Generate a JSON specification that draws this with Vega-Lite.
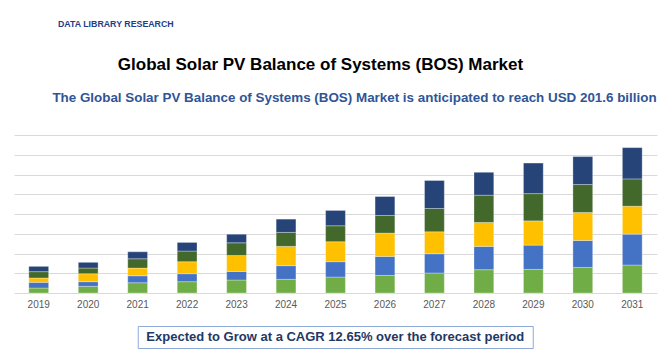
{
  "$schema": "https://vega.github.io/schema/vega-lite/v6.json",
  "background": "white",
  "padding": {"left": 14, "right": 13, "top": 20, "bottom": 2},
  "title": {"text": "DATA LIBRARY RESEARCH", "anchor": "start", "dx": 44, "fontSize": 8.8, "font": "Liberation Sans", "fontWeight": "bold", "color": "#1f3c88", "offset": 26},
  "config": {"view": {"stroke": null}},
  "center": true,
  "spacing": 16,
  "vconcat": [
    {
      "width": 643,
      "height": 20,
      "data": {"values": [{"heading": "Global Solar PV Balance of Systems (BOS) Market"}]},
      "mark": {"type": "text", "font": "Liberation Sans", "fontWeight": "bold", "fontSize": 17, "color": "#000000", "dx": -15},
      "encoding": {"text": {"field": "heading"}}
    },
    {
      "width": 643,
      "height": 158,
      "title": {"text": "The Global Solar PV Balance of Systems (BOS) Market is anticipated to reach USD 201.6 billion", "anchor": "middle", "dx": 19, "dy": 1, "font": "Liberation Sans", "fontSize": 13.4, "fontWeight": "bold", "color": "#2f5597", "offset": 31.5},
      "data": {"values": [
        {"year": "2019", "series": "Segment 1", "value": 6.3}, {"year": "2019", "series": "Segment 2", "value": 7.2}, {"year": "2019", "series": "Segment 3", "value": 5.5}, {"year": "2019", "series": "Segment 4", "value": 8.0}, {"year": "2019", "series": "Segment 5", "value": 6.7},
        {"year": "2020", "series": "Segment 1", "value": 8.4}, {"year": "2020", "series": "Segment 2", "value": 5.9}, {"year": "2020", "series": "Segment 3", "value": 10.1}, {"year": "2020", "series": "Segment 4", "value": 7.2}, {"year": "2020", "series": "Segment 5", "value": 7.2},
        {"year": "2021", "series": "Segment 1", "value": 13.0}, {"year": "2021", "series": "Segment 2", "value": 8.8}, {"year": "2021", "series": "Segment 3", "value": 9.7}, {"year": "2021", "series": "Segment 4", "value": 11.8}, {"year": "2021", "series": "Segment 5", "value": 8.8},
        {"year": "2022", "series": "Segment 1", "value": 14.3}, {"year": "2022", "series": "Segment 2", "value": 10.1}, {"year": "2022", "series": "Segment 3", "value": 15.2}, {"year": "2022", "series": "Segment 4", "value": 13.5}, {"year": "2022", "series": "Segment 5", "value": 10.9},
        {"year": "2023", "series": "Segment 1", "value": 16.4}, {"year": "2023", "series": "Segment 2", "value": 10.9}, {"year": "2023", "series": "Segment 3", "value": 20.2}, {"year": "2023", "series": "Segment 4", "value": 16.0}, {"year": "2023", "series": "Segment 5", "value": 10.9},
        {"year": "2024", "series": "Segment 1", "value": 17.3}, {"year": "2024", "series": "Segment 2", "value": 17.3}, {"year": "2024", "series": "Segment 3", "value": 24.4}, {"year": "2024", "series": "Segment 4", "value": 17.7}, {"year": "2024", "series": "Segment 5", "value": 16.8},
        {"year": "2025", "series": "Segment 1", "value": 20.2}, {"year": "2025", "series": "Segment 2", "value": 19.4}, {"year": "2025", "series": "Segment 3", "value": 25.3}, {"year": "2025", "series": "Segment 4", "value": 20.2}, {"year": "2025", "series": "Segment 5", "value": 19.4},
        {"year": "2026", "series": "Segment 1", "value": 22.3}, {"year": "2026", "series": "Segment 2", "value": 24.0}, {"year": "2026", "series": "Segment 3", "value": 29.5}, {"year": "2026", "series": "Segment 4", "value": 22.3}, {"year": "2026", "series": "Segment 5", "value": 24.0},
        {"year": "2027", "series": "Segment 1", "value": 25.3}, {"year": "2027", "series": "Segment 2", "value": 24.4}, {"year": "2027", "series": "Segment 3", "value": 27.8}, {"year": "2027", "series": "Segment 4", "value": 29.5}, {"year": "2027", "series": "Segment 5", "value": 35.4},
        {"year": "2028", "series": "Segment 1", "value": 29.5}, {"year": "2028", "series": "Segment 2", "value": 29.5}, {"year": "2028", "series": "Segment 3", "value": 30.3}, {"year": "2028", "series": "Segment 4", "value": 34.5}, {"year": "2028", "series": "Segment 5", "value": 29.0},
        {"year": "2029", "series": "Segment 1", "value": 29.9}, {"year": "2029", "series": "Segment 2", "value": 30.7}, {"year": "2029", "series": "Segment 3", "value": 30.7}, {"year": "2029", "series": "Segment 4", "value": 34.5}, {"year": "2029", "series": "Segment 5", "value": 38.7},
        {"year": "2030", "series": "Segment 1", "value": 32.4}, {"year": "2030", "series": "Segment 2", "value": 34.1}, {"year": "2030", "series": "Segment 3", "value": 35.4}, {"year": "2030", "series": "Segment 4", "value": 35.4}, {"year": "2030", "series": "Segment 5", "value": 35.4},
        {"year": "2031", "series": "Segment 1", "value": 35.4}, {"year": "2031", "series": "Segment 2", "value": 39.1}, {"year": "2031", "series": "Segment 3", "value": 35.4}, {"year": "2031", "series": "Segment 4", "value": 34.5}, {"year": "2031", "series": "Segment 5", "value": 39.6}
      ]},
      "mark": {"type": "bar", "stroke": "#ffffff", "strokeWidth": 0.5, "strokeOpacity": 0.6},
      "encoding": {
        "x": {"field": "year", "type": "ordinal", "scale": {"paddingInner": 0.6, "paddingOuter": 0.3},
              "axis": {"title": null, "labelAngle": 0, "domain": false, "ticks": false, "labelColor": "#595959", "labelFontSize": 10, "labelFont": "Liberation Sans", "labelPadding": 6}},
        "y": {"field": "value", "type": "quantitative", "stack": "zero", "scale": {"domain": [0, 200], "nice": false},
              "axis": {"title": null, "labels": false, "ticks": false, "domain": false, "values": [0, 25, 50, 75, 100, 125, 150, 175, 200], "gridColor": "#d9d9d9", "gridWidth": 1}},
        "color": {"field": "series", "type": "nominal", "legend": null,
                  "scale": {"domain": ["Segment 1", "Segment 2", "Segment 3", "Segment 4", "Segment 5"], "range": ["#70ad47", "#4472c4", "#ffc000", "#43682b", "#264478"]}},
        "order": {"field": "series", "sort": "ascending"}
      }
    },
    {
      "width": 395,
      "height": 22,
      "view": {"stroke": "#8eaadb", "strokeWidth": 1},
      "data": {"values": [{"note": "Expected to Grow at a CAGR 12.65% over the forecast period"}]},
      "mark": {"type": "text", "font": "Liberation Sans", "fontWeight": "bold", "fontSize": 13, "color": "#1f3864"},
      "encoding": {"text": {"field": "note"}}
    }
  ]
}
